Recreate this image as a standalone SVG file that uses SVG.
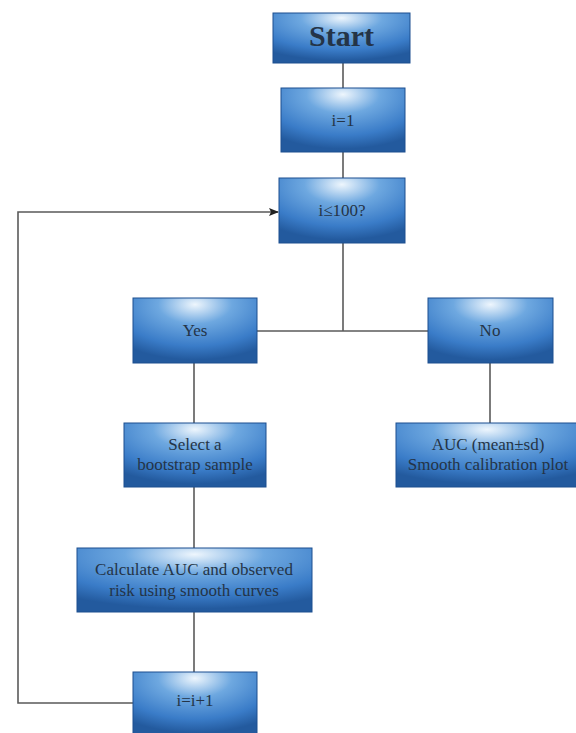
<svg xmlns="http://www.w3.org/2000/svg" width="576" height="733" viewBox="0 0 576 733">
<style>
.box{fill:url(#g);stroke:#1d4f8f;stroke-width:1}
.t{font-family:"Liberation Serif","DejaVu Serif",serif;font-size:17px;fill:#243447;text-anchor:middle}
.c{fill:none;stroke:#5a5a5a;stroke-width:1.6}
</style>
<defs>
<radialGradient id="g" cx="0.5" cy="0.1" r="0.85" fx="0.5" fy="0.1">
<stop offset="0" stop-color="#eef6fd"/>
<stop offset="0.35" stop-color="#6ea8e0"/>
<stop offset="0.75" stop-color="#3a7cc8"/>
<stop offset="1" stop-color="#235a9e"/>
</radialGradient>
<marker id="a" markerWidth="10" markerHeight="8" refX="9" refY="4" orient="auto" markerUnits="userSpaceOnUse">
<path d="M0,0 L10,4 L0,8 L2,4 Z" fill="#222"/>
</marker>
</defs>
<g id="connectors">
<line class="c" x1="343" y1="63" x2="343" y2="88"/>
<line class="c" x1="343" y1="152" x2="343" y2="178"/>
<polyline class="c" points="343,243 343,331"/>
<line class="c" x1="257" y1="331" x2="428" y2="331"/>
<line class="c" x1="194" y1="363" x2="194" y2="423"/>
<line class="c" x1="490" y1="363" x2="490" y2="423"/>
<line class="c" x1="194" y1="487" x2="194" y2="548"/>
<line class="c" x1="194" y1="612" x2="194" y2="672"/>
<polyline class="c" points="133,703 18,703 18,212 278,212" marker-end="url(#a)"/>
</g>
<g id="start"><rect class="box" x="273" y="13" width="137" height="50"/><text class="t" x="341.5" y="46" style="font-size:30px;font-weight:bold">Start</text></g>
<g id="init"><rect class="box" x="281" y="88" width="124" height="64"/><text class="t" x="343" y="126">i=1</text></g>
<g id="cond"><rect class="box" x="279" y="178" width="126" height="65"/><text class="t" x="342" y="216">i≤100?</text></g>
<g id="yes"><rect class="box" x="133" y="298" width="124" height="65"/><text class="t" x="195" y="336">Yes</text></g>
<g id="no"><rect class="box" x="428" y="298" width="125" height="65"/><text class="t" x="490" y="336">No</text></g>
<g id="select"><rect class="box" x="124" y="423" width="142" height="64"/><text class="t" x="195" y="450">Select a</text><text class="t" x="195" y="470">bootstrap sample</text></g>
<g id="auc"><rect class="box" x="396" y="423" width="182" height="64"/><text class="t" x="488" y="450">AUC (mean±sd)</text><text class="t" x="488" y="470">Smooth calibration plot</text></g>
<g id="calc"><rect class="box" x="77" y="548" width="235" height="64"/><text class="t" x="194" y="575">Calculate AUC and observed</text><text class="t" x="194" y="596">risk using smooth curves</text></g>
<g id="incr"><rect class="box" x="133" y="672" width="124" height="64"/><text class="t" x="195" y="706">i=i+1</text></g>
</svg>
